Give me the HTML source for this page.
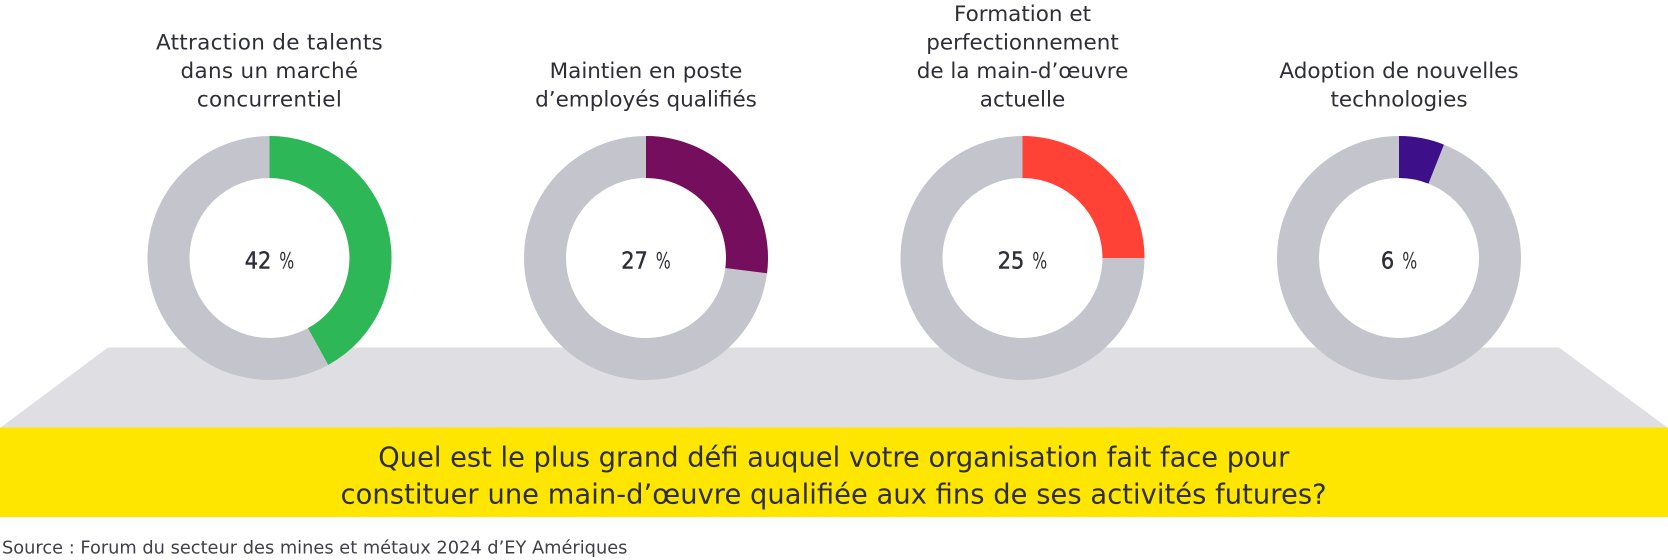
<!DOCTYPE html>
<html>
<head>
<meta charset="utf-8">
<style>
  html,body{margin:0;padding:0;background:#ffffff;}
  body{width:1668px;height:560px;overflow:hidden;}
  svg{display:block;}
  .t{font-family:"DejaVu Sans","Liberation Sans",sans-serif;fill:#2e2e38;}
  .d{font-family:"DejaVu Sans","Liberation Sans",sans-serif;fill:#2e2e38;stroke:#2e2e38;stroke-width:0.45;}
</style>
</head>
<body>
<svg width="1668" height="560" viewBox="0 0 1668 560" xmlns="http://www.w3.org/2000/svg">
  <!-- platform -->
  <polygon points="108,347.5 1559,347.5 1668,428 0,428" fill="#dedee3"/>
  <rect x="0" y="427.5" width="1668" height="89.5" fill="#ffe600"/>

  <!-- Donut 1 -->
  <circle cx="269.5" cy="258" r="101" fill="none" stroke="#c4c4cd" stroke-width="42"/>
  <path d="M269.5,136 A122,122 0 0 1 328.28,364.91 L308.04,328.10 A80,80 0 0 0 269.5,178 Z" fill="#2db757"/>
  <!-- Donut 2 -->
  <circle cx="646" cy="258" r="101" fill="none" stroke="#c4c4cd" stroke-width="42"/>
  <path d="M646,136 A122,122 0 0 1 767.04,273.29 L725.37,268.03 A80,80 0 0 0 646,178 Z" fill="#750e5c"/>
  <!-- Donut 3 -->
  <circle cx="1022.5" cy="258" r="101" fill="none" stroke="#c4c4cd" stroke-width="42"/>
  <path d="M1022.5,136 A122,122 0 0 1 1144.5,258 L1102.5,258 A80,80 0 0 0 1022.5,178 Z" fill="#ff4136"/>
  <!-- Donut 4 -->
  <circle cx="1399" cy="258" r="101" fill="none" stroke="#c4c4cd" stroke-width="42"/>
  <path d="M1399,136 A122,122 0 0 1 1443.91,144.57 L1428.45,183.62 A80,80 0 0 0 1399,178 Z" fill="#3d108a"/>

  <!-- Percent labels -->
  <text class="d" x="244.7" y="268.5" font-size="23" textLength="26.6" lengthAdjust="spacingAndGlyphs">42</text>
  <text class="t" x="279.3" y="268.5" font-size="22" textLength="15" lengthAdjust="spacingAndGlyphs">%</text>

  <text class="d" x="621.2" y="268.5" font-size="23" textLength="26.6" lengthAdjust="spacingAndGlyphs">27</text>
  <text class="t" x="655.8" y="268.5" font-size="22" textLength="15" lengthAdjust="spacingAndGlyphs">%</text>

  <text class="d" x="997.7" y="268.5" font-size="23" textLength="26.6" lengthAdjust="spacingAndGlyphs">25</text>
  <text class="t" x="1032.3" y="268.5" font-size="22" textLength="15" lengthAdjust="spacingAndGlyphs">%</text>

  <text class="d" x="1380.9" y="268.5" font-size="23" textLength="13.3" lengthAdjust="spacingAndGlyphs">6</text>
  <text class="t" x="1402.2" y="268.5" font-size="22" textLength="15" lengthAdjust="spacingAndGlyphs">%</text>

  <!-- Titles -->
  <g class="t" font-size="21.5" text-anchor="middle">
    <text class="t" x="269.5" y="49.5" letter-spacing="0.3">Attraction de talents</text>
    <text class="t" x="269.5" y="78" letter-spacing="0.3">dans un marché</text>
    <text class="t" x="269.5" y="106.5" letter-spacing="0.3">concurrentiel</text>

    <text class="t" x="646" y="78">Maintien en poste</text>
    <text class="t" x="646" y="106.5">d’employés qualifiés</text>

    <text class="t" x="1022.5" y="21">Formation et</text>
    <text class="t" x="1022.5" y="49.5">perfectionnement</text>
    <text class="t" x="1022.5" y="78">de la main-d’œuvre</text>
    <text class="t" x="1022.5" y="106.5">actuelle</text>

    <text class="t" x="1399" y="78">Adoption de nouvelles</text>
    <text class="t" x="1399" y="106.5">technologies</text>
  </g>

  <!-- Question -->
  <text class="t" x="378.3" y="466.5" font-size="27.3" textLength="911">Quel est le plus grand défi auquel votre organisation fait face pour</text>
  <text class="t" x="340.6" y="503.5" font-size="27.3" textLength="986">constituer une main-d’œuvre qualifiée aux fins de ses activités futures?</text>

  <!-- Source -->
  <text x="2" y="553.5" font-size="17.8" font-family="'DejaVu Sans','Liberation Sans',sans-serif" fill="#404048">Source : Forum du secteur des mines et métaux 2024 d’EY Amériques</text>
</svg>
</body>
</html>
